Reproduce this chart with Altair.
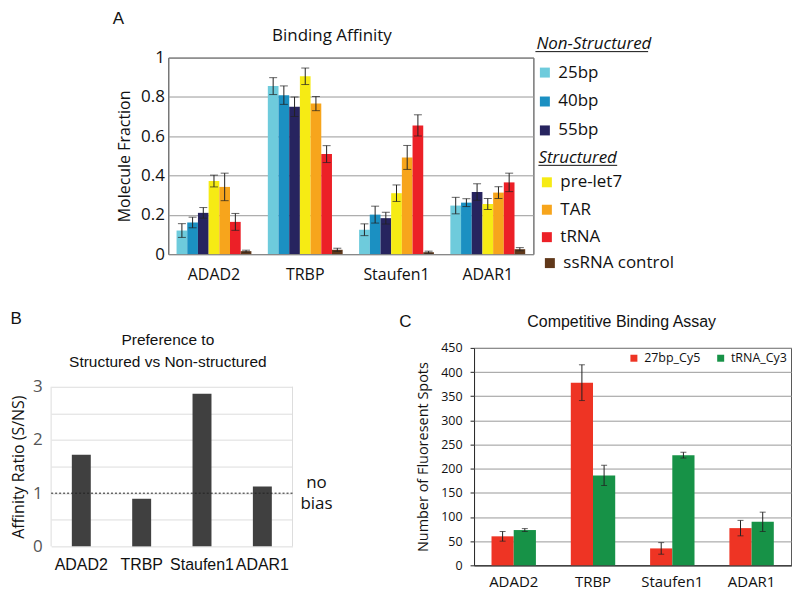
import altair as alt
import pandas as pd

FONT_M = "Open Sans"
FONT_A = "Liberation Sans"

# ---------------- data ----------------
proteins = ["ADAD2", "TRBP", "Staufen1", "ADAR1"]

series_a = ["25bp", "40bp", "55bp", "pre-let7", "TAR", "tRNA", "ssRNA control"]
nonstructured = ["25bp", "40bp", "55bp"]
structured = ["pre-let7", "TAR", "tRNA"]
control = ["ssRNA control"]
colors_a = ["#6ecbdc", "#1b90c2", "#27245f", "#f6eb14", "#f7a51c", "#ec2027", "#60381a"]

mean_25bp = [0.120, 0.855, 0.124, 0.247]
err_25bp = [0.035, 0.043, 0.030, 0.042]
mean_40bp = [0.161, 0.809, 0.201, 0.262]
err_40bp = [0.027, 0.047, 0.043, 0.020]
mean_55bp = [0.210, 0.750, 0.183, 0.316]
err_55bp = [0.027, 0.050, 0.030, 0.042]
mean_prelet7 = [0.372, 0.905, 0.310, 0.255]
err_prelet7 = [0.030, 0.042, 0.042, 0.028]
mean_tar = [0.342, 0.766, 0.492, 0.313]
err_tar = [0.070, 0.036, 0.061, 0.030]
mean_trna = [0.164, 0.509, 0.655, 0.365]
err_trna = [0.043, 0.043, 0.054, 0.047]
mean_ssrna = [0.015, 0.022, 0.010, 0.025]
err_ssrna = [0.005, 0.008, 0.005, 0.008]

ratio_b = [1.72, 0.895, 2.87, 1.127]
bias_level = [1]

dyes_c = ["27bp_Cy5", "tRNA_Cy3"]
colors_c = ["#ee3424", "#179247"]
mean_cy5 = [60, 378, 35, 77]
err_cy5 = [10, 37, 12, 16]
mean_cy3 = [73, 186, 228, 90]
err_cy3 = [3, 21, 6, 20]

# ---------------- tables ----------------
means_a = [mean_25bp, mean_40bp, mean_55bp, mean_prelet7, mean_tar, mean_trna, mean_ssrna]
errs_a = [err_25bp, err_40bp, err_55bp, err_prelet7, err_tar, err_trna, err_ssrna]
rows = []
for s, ms, es in zip(series_a, means_a, errs_a):
    for p, m, e in zip(proteins, ms, es):
        rows.append({"protein": p, "series": s, "value": m, "lo": m - e, "hi": m + e})
dfA = pd.DataFrame(rows)

dfB = pd.DataFrame({"protein": proteins, "ratio": ratio_b})
dfBias = pd.DataFrame({"y": bias_level})

rows = []
for d, ms, es in zip(dyes_c, [mean_cy5, mean_cy3], [err_cy5, err_cy3]):
    for p, m, e in zip(proteins, ms, es):
        rows.append({"protein": p, "dye": d, "value": m, "lo": m - e, "hi": m + e})
dfC = pd.DataFrame(rows)

one_row = pd.DataFrame({"k": [0]})


def label(t, dx, dy, size=17, font=FONT_A):
    return alt.Chart(pd.DataFrame({"t": [t]})).mark_text(
        fontSize=size, font=font, color="#111", align="center", baseline="middle",
    ).encode(x=alt.value(dx), y=alt.value(dy), text="t")


def underline(x1, x2, y):
    return alt.Chart(one_row).mark_rule(color="#111", strokeWidth=1).encode(
        x=alt.value(x1), x2=alt.value(x2), y=alt.value(y))


# blank (em-space) text that widens panel A's left side so the centred panel sits further right
spacerA = alt.Chart(one_row).mark_text(
    text="\u2003\u2003", fontSize=17, font=FONT_A, align="left", baseline="middle",
).encode(x=alt.value(-75), y=alt.value(-39))

# ---------------- panel A ----------------
xA = alt.X("protein:N", sort=proteins,
           scale=alt.Scale(domain=proteins, paddingInner=0.18, paddingOuter=0.09),
           axis=alt.Axis(title=None, ticks=False, labelAngle=0, labelFontSize=16,
                         labelFont=FONT_M, labelColor="#111", labelPadding=12,
                         domainColor="#888"))
oA = alt.XOffset("series:N", scale=alt.Scale(domain=series_a, paddingInner=0, paddingOuter=0))
axA = alt.Axis(values=[0, 0.2, 0.4, 0.6, 0.8, 1], format="~g", title="Molecule Fraction",
               titleFontSize=16, titleFont=FONT_M, titleFontWeight="normal", titleColor="#111",
               titlePadding=8, labelFontSize=17, labelFont=FONT_M, labelColor="#111",
               labelPadding=4, ticks=False, domain=False, gridColor="#999")
scA = alt.Scale(domain=[0, 1])


def legA(title, lx, ly, row_pad, title_pad):
    kw = dict(symbolType="square", symbolSize=100, symbolStrokeWidth=0,
              labelFontSize=17, labelFont=FONT_M, labelColor="#111", labelOffset=5,
              rowPadding=row_pad, orient="none", legendX=lx, legendY=ly, padding=0)
    if title is None:
        return alt.Legend(title=None, **kw)
    return alt.Legend(title=title, titleFontSize=17, titleFont=FONT_M,
                      titleFontStyle="italic", titleFontWeight="normal",
                      titleColor="#111", titlePadding=title_pad, **kw)


def barsA(sub, legend):
    d = dfA[dfA["series"].isin(sub)]
    cols = [colors_a[series_a.index(s)] for s in sub]
    return alt.Chart(d).mark_bar().encode(
        x=xA, xOffset=oA,
        y=alt.Y("value:Q", scale=scA, axis=axA),
        color=alt.Color("series:N", scale=alt.Scale(domain=sub, range=cols), legend=legend),
    )


errA = alt.Chart(dfA).mark_rule(color="#222", strokeWidth=1).encode(
    x=xA, xOffset=oA, y=alt.Y("lo:Q", scale=scA, axis=axA), y2="hi:Q")
capLoA = alt.Chart(dfA).mark_tick(color="#222", thickness=1, size=8).encode(
    x=xA, xOffset=oA, y=alt.Y("lo:Q", scale=scA, axis=axA))
capHiA = alt.Chart(dfA).mark_tick(color="#222", thickness=1, size=8).encode(
    x=xA, xOffset=oA, y=alt.Y("hi:Q", scale=scA, axis=axA))

panelA = alt.layer(
    barsA(nonstructured, legA("Non-Structured", 369, -21.5, 11, 11)),
    barsA(structured, legA("Structured", 371, 92.5, 9.5, 7)),
    barsA(control, legA(None, 374, 197.5, 9, 0)),
    errA, capLoA, capHiA,
    underline(368, 481, -6),
    underline(371, 450, 108),
    spacerA,
    label("A", -50, -39),
    label("Binding Affinity", 164, -22, size=17, font=FONT_M),
).resolve_scale(color="independent").properties(
    width=366, height=197,
    view=alt.ViewBackground(stroke="#333"),
)

# ---------------- panel B ----------------
# view spans the same height as panel C; the scale range puts the plot in its lower part
B_H = 199
B_TOP = 39
xB = alt.X("protein:N", sort=proteins,
           scale=alt.Scale(domain=proteins, paddingInner=0.686, paddingOuter=0.343),
           axis=alt.Axis(title=None, ticks=False, domain=False, labelAngle=0, labelFontSize=16,
                         labelFont=FONT_A, labelColor="#111", labelPadding=10))
axB = alt.Axis(values=[0, 0.5, 1, 1.5, 2, 2.5, 3],
               labelExpr="datum.value % 1 == 0 ? format(datum.value, 'd') : ''",
               labelFontSize=17, labelFont=FONT_M, labelColor="#555", labelPadding=9,
               ticks=False, domain=False, gridColor="#ddd",
               title="Affinity Ratio (S/NS)", titleFontSize=16, titleFont=FONT_M,
               titleFontWeight="normal", titleColor="#111", titlePadding=6)
scB = alt.Scale(domain=[0, 3], range=[B_H, B_TOP])

barsB = alt.Chart(dfB).mark_bar(color="#404040").encode(
    x=xB, y=alt.Y("ratio:Q", scale=scB, axis=axB))
frameB = alt.Chart(pd.DataFrame({"lo": [0], "hi": [3]})).mark_rule(
    color="#ddd", strokeWidth=1).encode(
    x=alt.value(0), y=alt.Y("lo:Q", scale=scB, axis=axB), y2="hi:Q")
frameB2 = alt.Chart(pd.DataFrame({"lo": [0], "hi": [3]})).mark_rule(
    color="#ddd", strokeWidth=1).encode(
    x=alt.value(242), y=alt.Y("lo:Q", scale=scB, axis=axB), y2="hi:Q")
ruleB = alt.Chart(dfBias).mark_rule(color="#222", strokeDash=[2, 2], strokeWidth=1).encode(
    y=alt.Y("y:Q", scale=scB, axis=axB))
noB = alt.Chart(dfBias).mark_text(
    text="no", fontSize=17, font=FONT_M, color="#111", align="center", baseline="middle",
    dy=-10.5).encode(x=alt.value(266), y=alt.Y("y:Q", scale=scB, axis=axB))
biasB = alt.Chart(dfBias).mark_text(
    text="bias", fontSize=17, font=FONT_M, color="#111", align="center", baseline="middle",
    dy=10.5).encode(x=alt.value(266), y=alt.Y("y:Q", scale=scB, axis=axB))

panelB = alt.layer(
    frameB, frameB2, barsB, ruleB, noB, biasB,
    label("B", -35, B_TOP - 68),
    label("Preference to", 117, B_TOP - 47, size=15.5),
    label("Structured vs Non-structured", 117, B_TOP - 25, size=15.5),
).properties(
    width=242, height=B_H,
    view=alt.ViewBackground(stroke=None),
)

# ---------------- panel C ----------------
xC = alt.X("protein:N", sort=proteins,
           scale=alt.Scale(domain=proteins, paddingInner=0.44, paddingOuter=0.22),
           axis=alt.Axis(title=None, ticks=False, labelAngle=0, labelFontSize=15,
                         labelFont=FONT_M, labelColor="#111", labelPadding=9,
                         domainColor="#222"))
oC = alt.XOffset("dye:N", scale=alt.Scale(domain=dyes_c, paddingInner=0, paddingOuter=0))
axC = alt.Axis(values=list(range(0, 451, 50)), tickSize=4, tickColor="#222",
               labelFontSize=12.5, labelFont=FONT_M, labelColor="#111", labelPadding=8,
               domain=False, gridColor="#999",
               title="Number of Fluoresent Spots", titleFontSize=14.5, titleFont=FONT_M,
               titleFontWeight="normal", titleColor="#111", titlePadding=10)
scC = alt.Scale(domain=[0, 450])

barsC = alt.Chart(dfC).mark_bar().encode(
    x=xC, xOffset=oC, y=alt.Y("value:Q", scale=scC, axis=axC),
    color=alt.Color("dye:N", scale=alt.Scale(domain=dyes_c, range=colors_c),
                    legend=alt.Legend(title=None, orient="top-right", direction="horizontal",
                                      symbolType="square", symbolSize=49, symbolStrokeWidth=0,
                                      labelFontSize=12.5, labelFont=FONT_M, labelColor="#111",
                                      columnPadding=14, offset=4, padding=0)))
errC = alt.Chart(dfC).mark_rule(color="#222", strokeWidth=1).encode(
    x=xC, xOffset=oC, y=alt.Y("lo:Q", scale=scC, axis=axC), y2="hi:Q")
capLoC = alt.Chart(dfC).mark_tick(color="#222", thickness=1, size=6).encode(
    x=xC, xOffset=oC, y=alt.Y("lo:Q", scale=scC, axis=axC))
capHiC = alt.Chart(dfC).mark_tick(color="#222", thickness=1, size=6).encode(
    x=xC, xOffset=oC, y=alt.Y("hi:Q", scale=scC, axis=axC))

panelC = alt.layer(
    barsC, errC, capLoC, capHiC,
    label("C", -69, -26),
    label("Competitive Binding Assay", 148, -26, size=16),
).properties(
    width=318, height=218,
    view=alt.ViewBackground(stroke="#222"),
)

row2 = alt.hconcat(panelB, panelC, spacing=65).resolve_scale(
    color="independent", xOffset="independent")
chart = alt.vconcat(panelA, row2, spacing=27, center=True).resolve_scale(
    color="independent", xOffset="independent").properties(
    padding={"left": 2, "top": 0, "right": 0, "bottom": 0})

chart.save("out.html", embed_options={"renderer": "svg", "actions": False})
